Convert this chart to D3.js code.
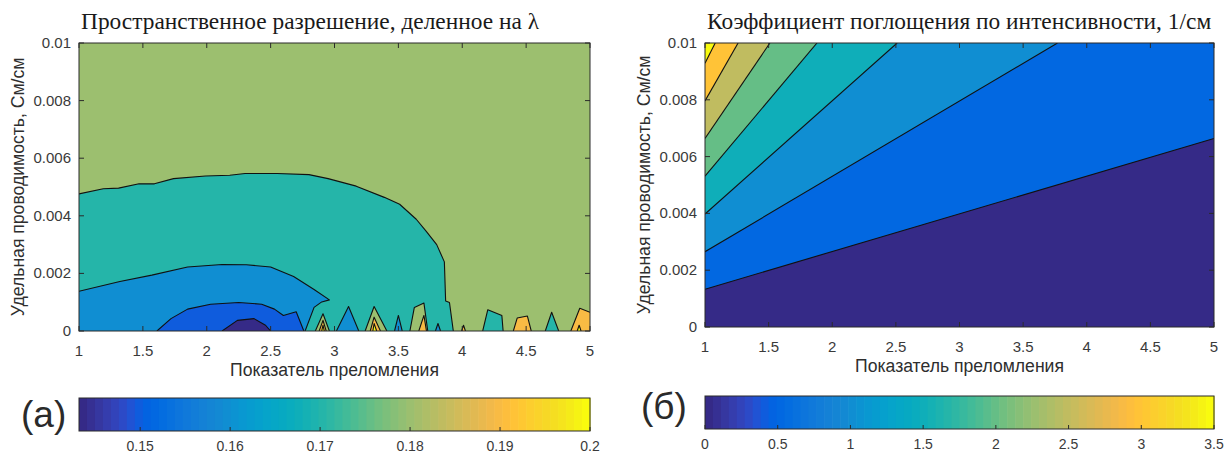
<!DOCTYPE html>
<html>
<head>
<meta charset="utf-8">
<script src="https://cdn.jsdelivr.net/npm/d3@7"></script>
<style>
  body { margin: 0; background: #fff; }
  svg { display: block; }
  text { font-family: "Liberation Sans", Arial, sans-serif; }
</style>
</head>
<body>
<svg id="fig" width="1228" height="455"></svg>
<script>
// ---- shared axes ----
const nTicks = [1, 1.5, 2, 2.5, 3, 3.5, 4, 4.5, 5];
const sigmaTicks = [0, 0.002, 0.004, 0.006, 0.008, 0.01];
const nDomain = [1, 5];
const sigmaDomain = [0, 0.01];

// ---- (a) spatial resolution / λ ----
const resRange = [0.1432, 0.2];
const resTicks = [0.15, 0.16, 0.17, 0.18, 0.19, 0.2];
const resBase = 0.18;                      // level filling the open area
// contour boundaries, points [n, σ]; each region lies below its curve
const resRegions = [
  { level: 0.17, pts: [[1.00,0.00476],[1.19,0.00494],[1.31,0.00496],[1.47,0.00511],[1.59,0.00511],[1.74,0.00529],[1.99,0.00538],[2.18,0.00541],[2.30,0.00547],[2.55,0.00547],[2.80,0.00543],[2.95,0.00529],[3.17,0.00503],[3.39,0.00464],[3.51,0.00440],[3.64,0.00388],[3.72,0.00345],[3.80,0.00300],[3.86,0.00240],[3.87,0.00104],[3.90,0.00099],[3.93,0]] },
  { level: 0.16, pts: [[1.00,0.00138],[1.32,0.00172],[1.57,0.00194],[1.85,0.00222],[2.12,0.00231],[2.31,0.00230],[2.50,0.00222],[2.68,0.00189],[2.84,0.00144],[2.96,0.00108],[2.90,0.00101],[2.84,0.00082],[2.77,0]] },
  { level: 0.15, pts: [[1.61,0],[1.72,0.00043],[1.85,0.00076],[2.03,0.00093],[2.25,0.00099],[2.43,0.00093],[2.53,0.00076],[2.60,0.00054],[2.70,0.00067],[2.76,0]] },
  { level: 0.1432, pts: [[2.12,0],[2.24,0.00037],[2.37,0.00043],[2.46,0.00020],[2.50,0]] },
  // small closed pockets along σ = 0
  { level: 0.18, pts: [[2.85,0],[2.91,0.00060],[2.96,0]] },
  { level: 0.19, pts: [[2.88,0],[2.91,0.00037],[2.935,0]] },
  { level: 0.20, pts: [[2.90,0],[2.91,0.00020],[2.92,0]] },
  { level: 0.16, pts: [[3.015,0],[3.11,0.00085],[3.19,0]] },
  { level: 0.18, pts: [[3.24,0],[3.31,0.00085],[3.41,0]] },
  { level: 0.19, pts: [[3.28,0],[3.31,0.00048],[3.36,0]] },
  { level: 0.20, pts: [[3.30,0],[3.31,0.00026],[3.33,0]] },
  { level: 0.16, pts: [[3.47,0],[3.50,0.00054],[3.53,0]] },
  { level: 0.18, pts: [[3.59,0],[3.625,0.00082],[3.70,0.00097],[3.73,0]] },
  { level: 0.19, pts: [[3.66,0],[3.70,0.00054],[3.72,0]] },
  { level: 0.16, pts: [[3.79,0],[3.81,0.00026],[3.83,0]] },
  { level: 0.19, pts: [[3.995,0],[4.01,0.00020],[4.025,0]] },
  { level: 0.17, pts: [[4.16,0],[4.20,0.00074],[4.31,0.00054],[4.32,0]] },
  { level: 0.19, pts: [[4.40,0],[4.43,0.00045],[4.51,0.00052],[4.54,0]] },
  { level: 0.17, pts: [[4.65,0],[4.70,0.00065],[4.755,0]] },
  { level: 0.19, pts: [[4.85,0],[4.92,0.00079],[5.00,0.00065]] },
  { level: 0.20, pts: [[4.90,0],[4.915,0.00020],[4.93,0]] }
];

// ---- (б) intensity absorption coefficient, 1/cm ----
const absRange = [0, 3.5];
const absTicks = [0, 0.5, 1, 1.5, 2, 2.5, 3, 3.5];
const absBase = 0;
// straight contour lines, [n, σ] at both ends; each region lies above its line
const absRegions = [
  { level: 0.5, pts: [[1,0.00133],[5,0.00664]] },
  { level: 1.0, pts: [[1,0.00265],[3.77,0.01]] },
  { level: 1.5, pts: [[1,0.00398],[2.51,0.01]] },
  { level: 2.0, pts: [[1,0.00531],[1.88,0.01]] },
  { level: 2.5, pts: [[1,0.00664],[1.51,0.01]] },
  { level: 3.0, pts: [[1,0.00796],[1.26,0.01]] },
  { level: 3.5, pts: [[1,0.00929],[1.08,0.01]] }
];

// parula colormap, 64 entries
const parula = [
[0.2081,0.1663,0.5292],[0.2116,0.1898,0.5777],[0.2123,0.2138,0.6270],[0.2081,0.2386,0.6771],
[0.1959,0.2645,0.7279],[0.1707,0.2919,0.7792],[0.1253,0.3242,0.8303],[0.0591,0.3598,0.8683],
[0.0117,0.3875,0.8820],[0.0060,0.4086,0.8828],[0.0165,0.4266,0.8786],[0.0329,0.4430,0.8720],
[0.0498,0.4586,0.8641],[0.0629,0.4737,0.8554],[0.0723,0.4887,0.8467],[0.0779,0.5040,0.8384],
[0.0793,0.5200,0.8312],[0.0749,0.5375,0.8263],[0.0641,0.5570,0.8240],[0.0488,0.5772,0.8228],
[0.0343,0.5966,0.8199],[0.0265,0.6137,0.8135],[0.0239,0.6287,0.8038],[0.0231,0.6418,0.7913],
[0.0228,0.6535,0.7768],[0.0267,0.6642,0.7607],[0.0384,0.6743,0.7436],[0.0590,0.6838,0.7254],
[0.0843,0.6928,0.7062],[0.1133,0.7015,0.6859],[0.1453,0.7098,0.6646],[0.1801,0.7177,0.6424],
[0.2178,0.7250,0.6193],[0.2586,0.7317,0.5954],[0.3022,0.7376,0.5712],[0.3482,0.7424,0.5473],
[0.3953,0.7459,0.5244],[0.4420,0.7481,0.5033],[0.4871,0.7491,0.4840],[0.5300,0.7491,0.4661],
[0.5709,0.7485,0.4494],[0.6099,0.7473,0.4337],[0.6473,0.7456,0.4188],[0.6834,0.7435,0.4044],
[0.7184,0.7411,0.3905],[0.7525,0.7384,0.3768],[0.7858,0.7356,0.3633],[0.8185,0.7327,0.3498],
[0.8507,0.7299,0.3360],[0.8824,0.7274,0.3217],[0.9139,0.7258,0.3063],[0.9450,0.7261,0.2886],
[0.9739,0.7314,0.2666],[0.9938,0.7455,0.2403],[0.9990,0.7653,0.2164],[0.9955,0.7861,0.1967],
[0.9880,0.8066,0.1794],[0.9789,0.8271,0.1633],[0.9697,0.8481,0.1475],[0.9626,0.8705,0.1309],
[0.9589,0.8949,0.1132],[0.9598,0.9218,0.0948],[0.9661,0.9514,0.0755],[0.9763,0.9831,0.0538]
].map(c => d3.rgb(c[0]*255, c[1]*255, c[2]*255).formatHex());

function cmap(range) {
  const t = d3.scaleLinear().domain(range).range([0, parula.length]).clamp(true);
  return v => parula[Math.min(parula.length - 1, Math.floor(t(v) + 1e-9))];
}

const svg = d3.select("#fig");
const AX = "#2b2b2b";

function panel(o) {
  const x = d3.scaleLinear().domain(nDomain).range([o.left, o.right]);
  const y = d3.scaleLinear().domain(sigmaDomain).range([o.bottom, o.top]);
  const color = cmap(o.range);
  const g = svg.append("g");

  const clipId = "clip-" + o.id;
  g.append("clipPath").attr("id", clipId).append("rect")
    .attr("x", o.left).attr("y", o.top)
    .attr("width", o.right - o.left).attr("height", o.bottom - o.top);
  const plot = g.append("g").attr("clip-path", `url(#${clipId})`);

  plot.append("rect")
    .attr("x", o.left).attr("y", o.top)
    .attr("width", o.right - o.left).attr("height", o.bottom - o.top)
    .attr("fill", color(o.base));

  const line = d3.line().x(d => x(d[0])).y(d => y(d[1]));
  o.regions.forEach(r => {
    const pts = r.pts.slice();
    if (o.side === "below") {
      if (pts[0][1] !== sigmaDomain[0]) pts.unshift([pts[0][0], sigmaDomain[0]]);
      const last = pts[pts.length - 1];
      if (last[1] !== sigmaDomain[0]) pts.push([last[0], sigmaDomain[0]]);
    } else {
      const last = pts[pts.length - 1];
      if (last[0] === nDomain[1]) pts.push([nDomain[1], sigmaDomain[1]]);
      pts.push([nDomain[0], sigmaDomain[1]]);
    }
    plot.append("path").attr("d", line(pts) + "Z").attr("fill", color(r.level));
  });
  o.regions.forEach(r => {
    plot.append("path").attr("d", line(r.pts))
      .attr("fill", "none").attr("stroke", "#111").attr("stroke-width", 1.1)
      .attr("stroke-linejoin", "round");
  });

  // box with inward ticks on all four sides
  const ax = g.append("g").attr("stroke", AX).attr("stroke-width", 1).attr("fill", "none");
  ax.append("rect").attr("x", o.left).attr("y", o.top)
    .attr("width", o.right - o.left).attr("height", o.bottom - o.top);
  const tl = 5;
  nTicks.forEach(t => {
    ax.append("line").attr("x1", x(t)).attr("x2", x(t)).attr("y1", o.bottom).attr("y2", o.bottom - tl);
    ax.append("line").attr("x1", x(t)).attr("x2", x(t)).attr("y1", o.top).attr("y2", o.top + tl);
  });
  sigmaTicks.forEach(t => {
    ax.append("line").attr("y1", y(t)).attr("y2", y(t)).attr("x1", o.left).attr("x2", o.left + tl);
    ax.append("line").attr("y1", y(t)).attr("y2", y(t)).attr("x1", o.right).attr("x2", o.right - tl);
  });

  const lab = g.append("g").attr("fill", "#3a3a3a").attr("font-size", 15);
  nTicks.forEach(t => {
    lab.append("text").attr("x", x(t)).attr("y", o.bottom + 25)
      .attr("text-anchor", "middle").text(d3.format("~g")(t));
  });
  sigmaTicks.forEach(t => {
    lab.append("text").attr("x", o.left - 8).attr("y", y(t) + 5)
      .attr("text-anchor", "end").text(t === 0 ? "0" : d3.format("~g")(t));
  });

  g.append("text").attr("x", (o.left + o.right) / 2).attr("y", o.bottom + 45)
    .attr("text-anchor", "middle").attr("font-size", 17.6).attr("fill", "#2e2e2e")
    .text("Показатель преломления");
  g.append("text")
    .attr("transform", `translate(${o.left - 55},${(o.top + o.bottom) / 2}) rotate(-90)`)
    .attr("text-anchor", "middle").attr("font-size", 17.6).attr("fill", "#2e2e2e")
    .text("Удельная проводимость, См/см");

  g.append("text").attr("x", o.titleX).attr("y", 29)
    .attr("font-size", 23.4).attr("fill", "#1a1a1a")
    .style("font-family", '"Liberation Serif", "Times New Roman", serif')
    .text(o.title);

  // colorbar
  const cb = d3.scaleLinear().domain(o.range).range([o.left, o.right]);
  const cg = g.append("g");
  const nb = parula.length, w = (o.right - o.left) / nb;
  parula.forEach((c, i) => {
    cg.append("rect").attr("x", o.left + i * w).attr("y", o.cbTop)
      .attr("width", w + 0.6).attr("height", o.cbH).attr("fill", c);
  });
  cg.append("rect").attr("x", o.left).attr("y", o.cbTop)
    .attr("width", o.right - o.left).attr("height", o.cbH)
    .attr("fill", "none").attr("stroke", AX).attr("stroke-width", 1);
  o.cbTicks.forEach(t => {
    cg.append("line").attr("x1", cb(t)).attr("x2", cb(t))
      .attr("y1", o.cbTop + o.cbH).attr("y2", o.cbTop + o.cbH - 4)
      .attr("stroke", AX);
    cg.append("text").attr("x", cb(t)).attr("y", o.cbTop + o.cbH + 20)
      .attr("text-anchor", "middle").attr("font-size", 14).attr("fill", "#3a3a3a")
      .text(d3.format("~g")(t));
  });
  g.append("text").attr("x", o.tagX).attr("y", o.tagY)
    .attr("font-size", 37).attr("fill", "#2a2a2a").text(o.tag);
}

panel({
  id: "a", left: 79, right: 590, top: 43, bottom: 331,
  range: resRange, base: resBase, regions: resRegions, side: "below",
  title: "Пространственное разрешение, деленное на λ", titleX: 81,
  cbTop: 398, cbH: 33, cbTicks: resTicks, tag: "(a)", tagX: 21, tagY: 427
});
panel({
  id: "b", left: 705, right: 1214, top: 43, bottom: 327,
  range: absRange, base: absBase, regions: absRegions, side: "above",
  title: "Коэффициент поглощения по интенсивности, 1/см", titleX: 707,
  cbTop: 396, cbH: 33, cbTicks: absTicks, tag: "(б)", tagX: 641, tagY: 419
});
</script>
</body>
</html>
